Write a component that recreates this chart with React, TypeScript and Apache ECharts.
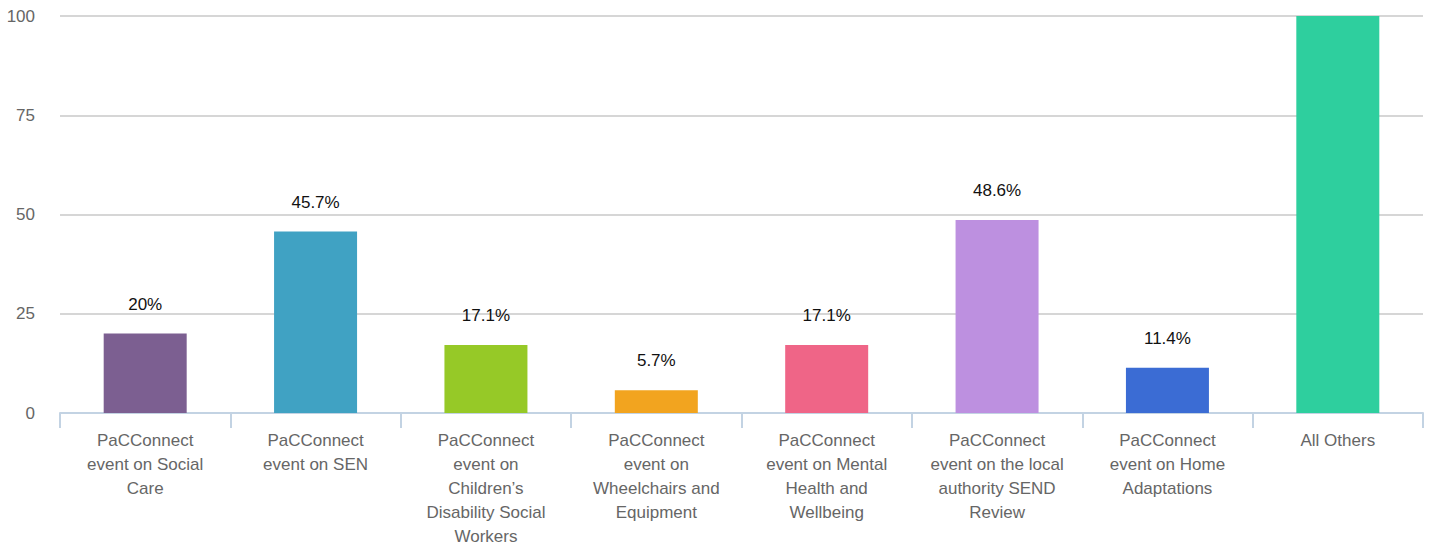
import React, { useEffect, useRef } from "react";
import * as echarts from "echarts";

const categories = [
  "PaCConnect\nevent on Social\nCare",
  "PaCConnect\nevent on SEN",
  "PaCConnect\nevent on\nChildren’s\nDisability Social\nWorkers",
  "PaCConnect\nevent on\nWheelchairs and\nEquipment",
  "PaCConnect\nevent on Mental\nHealth and\nWellbeing",
  "PaCConnect\nevent on the local\nauthority SEND\nReview",
  "PaCConnect\nevent on Home\nAdaptations",
  "All Others",
];
const values = [20, 45.7, 17.1, 5.7, 17.1, 48.6, 11.4, 100];
const labels = ["20%", "45.7%", "17.1%", "5.7%", "17.1%", "48.6%", "11.4%", ""];
const colors = ["#7c5f91", "#40a2c3", "#96c927", "#f2a41f", "#ef6587", "#bd90e0", "#3b6cd4", "#2ecf9e"];
const yTicks = [0, 25, 50, 75, 100];

export default function App() {
  const ref = useRef<HTMLDivElement>(null);
  useEffect(() => {
    if (!ref.current) return;
    const chart = echarts.init(ref.current, null, { renderer: "svg" });
    const font = "'Liberation Sans', Arial, Helvetica, sans-serif";
    chart.setOption({
      animation: false,
      grid: { left: 60, right: 9, top: 16, bottom: 131, containLabel: false, outerBoundsMode: "none" },
      xAxis: {
        type: "category",
        data: categories,
        axisLine: { lineStyle: { color: "#c3d3e3", width: 2 } },
        axisTick: { show: true, length: 15, lineStyle: { color: "#c3d3e3", width: 2 } },
        axisLabel: {
          color: "#666666",
          fontSize: 17,
          fontFamily: font,
          lineHeight: 24,
          margin: 15,
          interval: 0,
        },
      },
      yAxis: {
        type: "value",
        min: yTicks[0],
        max: yTicks[yTicks.length - 1],
        interval: 25,
        axisLine: { show: false },
        axisTick: { show: false },
        splitLine: { lineStyle: { color: "#c8c8c8", width: 1.5 } },
        axisLabel: { color: "#666666", fontSize: 17, fontFamily: font, margin: 25 },
      },
      series: [
        {
          type: "bar",
          barWidth: 83,
          data: values.map((v, i) => ({ value: v, itemStyle: { color: colors[i] } })),
          label: {
            show: true,
            position: "top",
            distance: 21,
            color: "#111111",
            fontSize: 17,
            fontFamily: font,
            formatter: (p: any) => labels[p.dataIndex],
          },
        },
      ],
    });
    return () => chart.dispose();
  }, []);
  return (
    <div
      ref={ref}
      style={{ position: "absolute", left: 0, top: 0, width: 1432, height: 544 }}
    />
  );
}
